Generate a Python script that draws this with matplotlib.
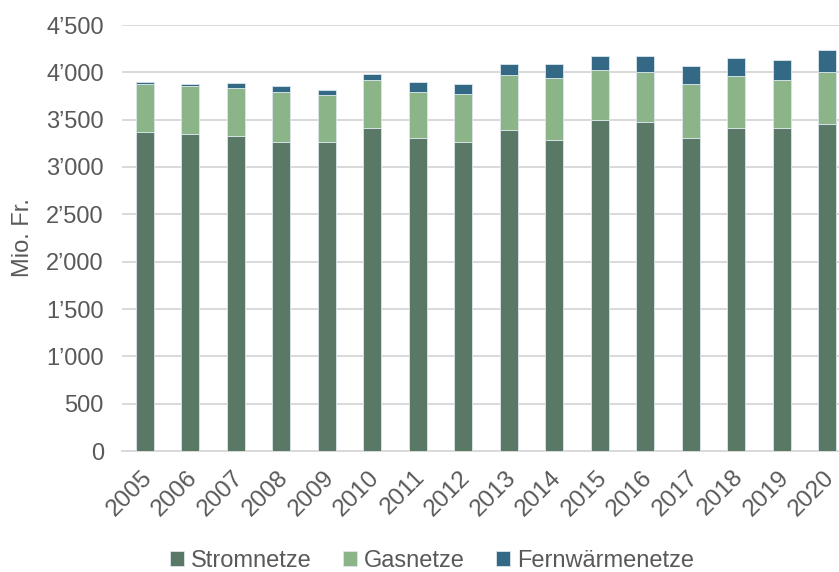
import matplotlib
matplotlib.use('Agg')
import matplotlib.pyplot as plt
import matplotlib.transforms as mtransforms
from matplotlib.ticker import FuncFormatter
import numpy as np

# Daten (Mio. Fr.)
jahre = ['2005', '2006', '2007', '2008', '2009', '2010', '2011', '2012',
         '2013', '2014', '2015', '2016', '2017', '2018', '2019', '2020']
stromnetze = [3369, 3348, 3327, 3263, 3263, 3411, 3306, 3263,
              3390, 3284, 3496, 3475, 3306, 3411, 3411, 3453]
gasnetze = [507, 511, 507, 533, 494, 512, 490, 512,
            578, 660, 533, 532, 574, 554, 512, 554]
fernwaerme = [21, 21, 50, 63, 60, 63, 101, 105,
              124, 148, 148, 170, 191, 190, 211, 233]

C_STROM = '#5A7866'
C_GAS = '#8BB489'
C_FERN = '#336985'
TXT = '#595959'
GRID = '#D9D9D9'
FS = 17

plt.rcParams['font.family'] = ['Liberation Sans', 'DejaVu Sans']

fig = plt.figure(figsize=(8.39, 5.72), dpi=100, facecolor='white')
# Plotfläche reicht rechts leicht über den Rand hinaus
ax = fig.add_axes([122 / 839, 121 / 572, 728 / 839, 426 / 572])

x = np.arange(len(jahre))
s = np.array(stromnetze)
g = np.array(gasnetze)
f = np.array(fernwaerme)
w = 0.39
ec = '#DCE6EC'
ax.bar(x, s, w, color=C_STROM, edgecolor=ec, linewidth=0.6, label='Stromnetze', zorder=3)
ax.bar(x, g, w, bottom=s, color=C_GAS, edgecolor=ec, linewidth=0.6, label='Gasnetze', zorder=3)
ax.bar(x, f, w, bottom=s + g, color=C_FERN, edgecolor=ec, linewidth=0.6, label='Fernwärmenetze', zorder=3)

ax.set_xlim(-0.5, len(jahre) - 0.5)
ax.set_ylim(0, 4500)
ax.set_yticks(np.arange(0, 4501, 500))
ax.yaxis.set_major_formatter(FuncFormatter(lambda v, p: f'{int(v):,}'.replace(',', '\u2019')))
ax.yaxis.grid(True, color=GRID, linewidth=1.4, zorder=0)
ax.set_axisbelow(True)
for sp in ['top', 'right', 'left']:
    ax.spines[sp].set_visible(False)
ax.spines['bottom'].set_color(GRID)
ax.spines['bottom'].set_linewidth(1.4)

ax.set_xticks(x)
ax.set_xticklabels(jahre, rotation=45, ha='right', rotation_mode='anchor')
ax.tick_params(axis='both', length=0, labelsize=FS, colors=TXT)
ax.tick_params(axis='x', pad=11, labelsize=17.5)
ax.tick_params(axis='y', pad=13)

# Jahreszahlen etwas nach links schieben
shift = mtransforms.ScaledTranslation(-4 / 100, 0, fig.dpi_scale_trans)
for lab in ax.get_xticklabels():
    lab.set_transform(lab.get_transform() + shift)

ax.set_ylabel('Mio. Fr.', fontsize=FS, color=TXT, labelpad=9)

fig.legend(loc='center', bbox_to_anchor=(432 / 839, 1 - 561 / 572), ncol=3,
           frameon=False, fontsize=FS, labelcolor=TXT,
           handlelength=0.6, handleheight=0.6, handletextpad=0.3, columnspacing=1.3)

fig.savefig('out.png', dpi=100, facecolor='white')
